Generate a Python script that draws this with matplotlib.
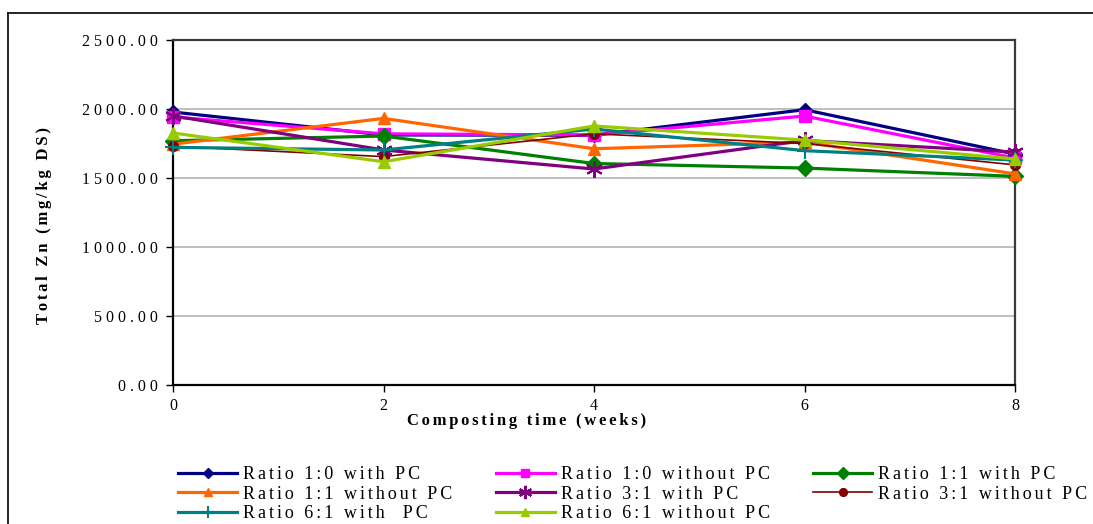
import matplotlib
matplotlib.use("Agg")
import matplotlib.pyplot as plt
from matplotlib.lines import Line2D

weeks = [0, 2, 4, 6, 8]
labels = ["Ratio 1:0 with PC", "Ratio 1:0 without PC", "Ratio 1:1 with PC",
          "Ratio 1:1 without PC", "Ratio 3:1 with PC", "Ratio 3:1 without PC",
          "Ratio 6:1 with  PC", "Ratio 6:1 without PC"]
r10_with = [1978, 1812, 1810, 1995, 1673]
r10_without = [1942, 1820, 1812, 1949, 1645]
r11_with = [1770, 1804, 1605, 1572, 1512]
r11_without = [1745, 1932, 1712, 1760, 1530]
r31_with = [1950, 1703, 1565, 1772, 1688]
r31_without = [1730, 1655, 1820, 1750, 1595]
r61_with = [1722, 1703, 1855, 1698, 1630]
r61_without = [1826, 1618, 1877, 1775, 1638]
yticks = [0, 500, 1000, 1500, 2000, 2500]

series = [r10_with, r10_without, r11_with, r11_without,
          r31_with, r31_without, r61_with, r61_without]
colors = ["#000080", "#FF00FF", "#008000", "#FF6600",
          "#800080", "#800000", "#008080", "#99CC00"]
markers = ["D", "s", "D", "^", (6, 2, 0), "o", "+", "^"]
msizes = [7, 8, 8, 8, 12, 7, 11, 8]
lwidths = [2.3, 2.3, 2.3, 2.3, 2.3, 1.2, 2.3, 2.3]

plt.rcParams['font.family'] = ['Liberation Serif', 'DejaVu Serif']


def spaced(s, sep="\u2006"):
    return sep.join(s)


fig = plt.figure(figsize=(10.93, 5.24), dpi=100)
ax = fig.add_axes([173/1093, 1-385/524, (1015-173)/1093, (385-40)/524])

handles = []
for ys, lab, c, m, ms, lw in zip(series, labels, colors, markers, msizes, lwidths):
    mew = 1.5 if m in ("+", (6, 2, 0)) else 1
    h, = ax.plot(weeks, ys, color=c, marker=m, markersize=ms, lw=lw,
                 markeredgecolor=c, markerfacecolor=c, markeredgewidth=mew,
                 label=lab, clip_on=False, zorder=3)
    handles.append(h)

ax.set_xlim(0, 8)
ax.set_ylim(0, 2500)
ax.set_xticks(weeks)
ax.set_xticklabels([str(w) for w in weeks])
ax.set_yticks(yticks)
ax.set_yticklabels([spaced(f"{v:.2f}", " ") for v in yticks])
ax.yaxis.grid(True, color="#B4B4B4", lw=1.2)
ax.set_axisbelow(True)
ax.tick_params(axis='both', direction='out', length=5, width=1, labelsize=11.5, pad=4)
ax.tick_params(axis='y', pad=6)
for s in ["left", "bottom"]:
    ax.spines[s].set_color("black")
    ax.spines[s].set_linewidth(1.6)
for s in ["top", "right"]:
    ax.spines[s].set_color("#3a3a3a")
    ax.spines[s].set_linewidth(1.6)

fig.text(44/1093, 1-225/524, spaced("Total Zn (mg/kg DS)"), rotation=90,
         fontsize=12, fontweight="bold", ha="center", va="center")
fig.text(527/1093, 1-421/524, spaced("Composting time (weeks)"),
         fontsize=12, fontweight="bold", ha="center", va="center")

order = [0, 3, 6, 1, 4, 7, 2, 5]
leg = fig.legend([handles[i] for i in order], [spaced(labels[i]) for i in order],
                 ncol=3, loc="upper left", bbox_to_anchor=(178/1093, 1-466/524),
                 frameon=False, fontsize=13, handlelength=3.27, handletextpad=0.33,
                 columnspacing=2.4, labelspacing=0.15, borderaxespad=0, borderpad=0,
                 markerscale=0.8)

fig.add_artist(Line2D([8/1093, 8/1093], [0, 1-13/524], color="black", lw=1.2,
                      transform=fig.transFigure))
fig.add_artist(Line2D([8/1093, 1], [1-13/524, 1-13/524], color="black", lw=1.2,
                      transform=fig.transFigure))

fig.savefig("out.png", dpi=100)
